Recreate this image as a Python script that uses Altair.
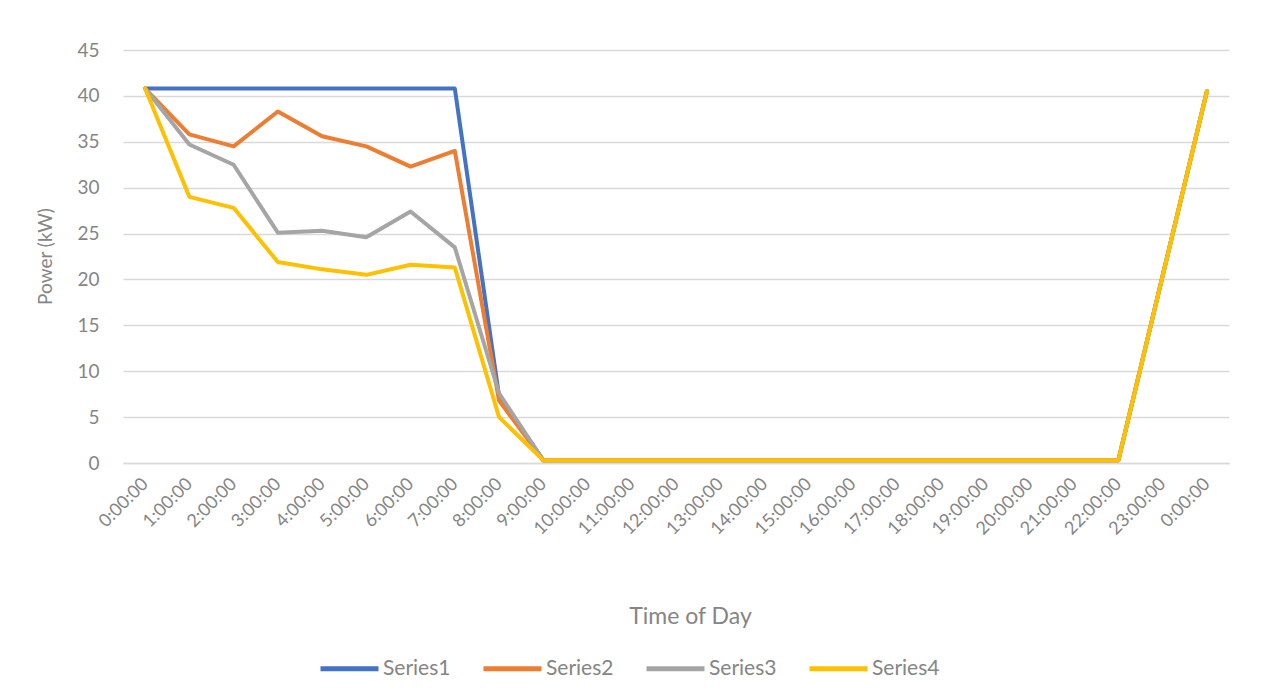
import altair as alt
import pandas as pd

time_labels = ["0:00:00", "1:00:00", "2:00:00", "3:00:00", "4:00:00", "5:00:00",
               "6:00:00", "7:00:00", "8:00:00", "9:00:00", "10:00:00", "11:00:00",
               "12:00:00", "13:00:00", "14:00:00", "15:00:00", "16:00:00", "17:00:00",
               "18:00:00", "19:00:00", "20:00:00", "21:00:00", "22:00:00", "23:00:00",
               "0:00:00"]

series1 = [40.8, 40.8, 40.8, 40.8, 40.8, 40.8, 40.8, 40.8, 7.3,
           0.3, 0.3, 0.3, 0.3, 0.3, 0.3, 0.3, 0.3, 0.3, 0.3, 0.3, 0.3, 0.3, 0.3,
           20.4, 40.5]
series2 = [40.8, 35.8, 34.5, 38.3, 35.6, 34.5, 32.3, 34.0, 6.8,
           0.3, 0.3, 0.3, 0.3, 0.3, 0.3, 0.3, 0.3, 0.3, 0.3, 0.3, 0.3, 0.3, 0.3,
           20.4, 40.5]
series3 = [40.8, 34.7, 32.5, 25.1, 25.3, 24.6, 27.4, 23.5, 7.6,
           0.3, 0.3, 0.3, 0.3, 0.3, 0.3, 0.3, 0.3, 0.3, 0.3, 0.3, 0.3, 0.3, 0.3,
           20.4, 40.5]
series4 = [40.8, 29.0, 27.8, 21.9, 21.1, 20.5, 21.6, 21.3, 5.0,
           0.3, 0.3, 0.3, 0.3, 0.3, 0.3, 0.3, 0.3, 0.3, 0.3, 0.3, 0.3, 0.3, 0.3,
           20.4, 40.5]

series_names = ["Series1", "Series2", "Series3", "Series4"]
series_colors = ["#4472C4", "#ED7D31", "#A5A5A5", "#FFC000"]
y_ticks = [0, 5, 10, 15, 20, 25, 30, 35, 40, 45]

rows = []
for name, vals in zip(series_names, [series1, series2, series3, series4]):
    for i, v in enumerate(vals):
        rows.append({"idx": i, "series": name, "power": v})
df = pd.DataFrame(rows)

label_expr = "[" + ",".join('"%s"' % t for t in time_labels) + "][datum.value]"

FONT = "Lato"
TXT = "#858585"

chart = alt.Chart(df).mark_line(strokeWidth=4, strokeCap="round", strokeJoin="round").encode(
    x=alt.X("idx:O",
            scale=alt.Scale(type="point", padding=0.5),
            axis=alt.Axis(title="Time of Day", labelExpr=label_expr, labelAngle=-45,
                          labelAlign="right", labelBaseline="middle", labelPadding=18,
                          labelFontSize=18, labelColor=TXT, labelFont=FONT,
                          ticks=False, grid=False, domainColor="#d9d9d9", domainWidth=1.5,
                          titleFont=FONT, titleFontSize=23, titleFontWeight="normal",
                          titleColor=TXT, titleX=567, titleY=153, titleBaseline="middle")),
    y=alt.Y("power:Q",
            scale=alt.Scale(domain=[0, 45], nice=False),
            axis=alt.Axis(title="Power (kW)", values=y_ticks, labelPadding=24,
                          labelFontSize=19, labelColor=TXT, labelFont=FONT,
                          ticks=False, domain=False, gridColor="#d9d9d9", gridWidth=1.5,
                          titleFont=FONT, titleFontSize=19, titleFontWeight="normal",
                          titleColor=TXT, titleX=-78, titleY=206, titleBaseline="middle")),
    color=alt.Color("series:N",
                    scale=alt.Scale(domain=series_names, range=series_colors),
                    legend=alt.Legend(title=None, orient="none", direction="horizontal",
                                      legendX=195, legendY=587,
                                      symbolType="stroke", symbolSize=3364,
                                      symbolStrokeWidth=5, labelOffset=2,
                                      labelFont=FONT, labelFontSize=21, labelColor=TXT,
                                      columnPadding=22, padding=0)),
).properties(
    width=1106,
    height=413,
    autosize=alt.AutoSizeParams(type="none"),
    padding={"left": 115, "top": 42, "right": 20, "bottom": 224},
).configure_view(stroke=None)

chart.save("out.html", embed_options={"renderer": "svg", "actions": False})
